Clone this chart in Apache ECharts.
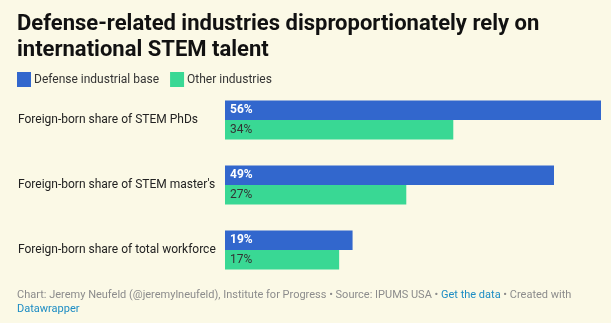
<!DOCTYPE html>
<html><head><meta charset="utf-8">
<script src="https://cdn.jsdelivr.net/npm/echarts@6/dist/echarts.min.js"></script>
<style>html,body{margin:0;padding:0;background:#fbf9e6;}#c{width:611px;height:323px;}</style>
</head><body><div id="c"></div>
<script>
const categories = ["Foreign-born share of STEM PhDs", "Foreign-born share of STEM master's", "Foreign-born share of total workforce"];
const defenseValues = [56, 49, 19];
const otherValues = [34, 27, 17];
const seriesNames = ["Defense industrial base", "Other industries"];

const chart = echarts.init(document.getElementById('c'));
chart.setOption({
  backgroundColor: '#fbf9e6',
  animation: false,
  textStyle: {fontFamily: 'Roboto'},
  title: [{
    text: 'Defense-related industries disproportionately rely on\ninternational STEM talent',
    left: 17, top: 11, padding: 0,
    textStyle: {fontFamily: 'Roboto', fontWeight: 'bold', fontSize: 22, lineHeight: 26, color: '#111'}
  }, {
    text: '{g|Chart: Jeremy Neufeld (@jeremylneufeld), Institute for Progress • Source: IPUMS USA • }{b|Get the data}{g| • Created with}\n{b|Datawrapper}',
    left: 17, top: 288, padding: 0,
    textStyle: {
      fontSize: 11, lineHeight: 14, fontWeight: 'normal',
      rich: {
        g: {fontFamily: 'Roboto', fontSize: 11, fontWeight: 'normal', color: '#8c8c8c', lineHeight: 14},
        b: {fontFamily: 'Roboto', fontSize: 11, fontWeight: 'normal', color: '#1d8dc4', lineHeight: 14}
      }
    }
  }],
  legend: {
    left: 17, top: 72, padding: 0, icon: 'rect', itemWidth: 14, itemHeight: 15, itemGap: 11,
    textStyle: {fontSize: 12, color: '#333', padding: [0,0,0,-2]},
    data: seriesNames
  },
  grid: {left: 225, right: 10, top: 87.5, bottom: 323 - 282.5},
  xAxis: {type: 'value', min: 0, max: 56, show: false},
  yAxis: {
    type: 'category', data: categories, inverse: true,
    axisLine: {show: false}, axisTick: {show: false},
    axisLabel: {align: 'left', margin: 207, fontSize: 12, color: '#222'}
  },
  series: [
    {name: seriesNames[0], type: 'bar', data: defenseValues, barWidth: 19.5, barGap: '0%',
     itemStyle: {color: '#3267cd'},
     label: {show: true, position: 'insideLeft', distance: 5, formatter: '{c}%', color: '#fff', fontWeight: 'bold', fontSize: 12}},
    {name: seriesNames[1], type: 'bar', data: otherValues, barWidth: 19.5, barGap: '0%',
     itemStyle: {color: '#39d894'},
     label: {show: true, position: 'insideLeft', distance: 5, formatter: '{c}%', color: '#333', fontSize: 12}}
  ]
});
</script></body></html>
